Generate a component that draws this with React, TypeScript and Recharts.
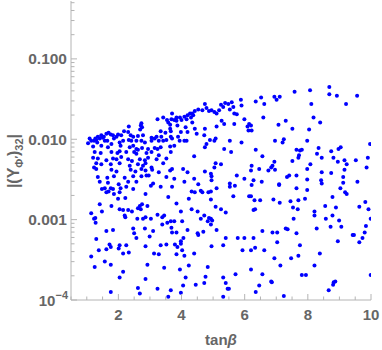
import React from "react";
import { ScatterChart, Scatter, XAxis, YAxis } from "recharts";

// [tanβ, log10 |(Y_Φ')_32|]
const scanPoints: [number, number][] = [
  [2.73,-1.80],[2.71,-1.83],[2.75,-1.85],[2.33,-1.84],[3.24,-1.75],[3.42,-1.73],[3.54,-1.76],[3.58,-1.79],[3.64,-1.82],
  [2.18,-1.90],[2.31,-1.91],[2.69,-1.88],[3.64,-1.87],[3.34,-1.90],[3.49,-1.92],[3.66,-1.90],[1.62,-1.93],[1.69,-1.92],
  [1.76,-1.94],[1.46,-1.95],[1.54,-1.97],[1.35,-1.97],[1.27,-1.99],[1.41,-1.99],[1.51,-1.98],[1.83,-1.95],[1.99,-1.94],
  [1.94,-1.97],[2.09,-1.95],[2.39,-1.95],[2.47,-1.97],[2.62,-1.96],[2.78,-1.95],[3.05,-1.98],[3.21,-1.97],[3.36,-1.97],
  [3.66,-1.97],[1.04,-2.05],[1.09,-1.99],[1.14,-2.02],[1.23,-2.02],[1.30,-2.01],[1.33,-2.04],[1.57,-2.02],[1.65,-2.02],
  [1.78,-2.06],[1.86,-1.99],[2.04,-2.04],[2.15,-2.02],[2.33,-2.01],[2.41,-2.02],[2.57,-2.02],[2.73,-2.02],[2.84,-2.04],
  [3.05,-2.02],[3.15,-1.99],[3.28,-2.02],[3.42,-2.02],[3.52,-2.01],[1.20,-2.09],[1.46,-2.08],[1.67,-2.10],[2.07,-2.08],
  [2.36,-2.10],[2.47,-2.08],[2.57,-2.12],[2.62,-2.13],[2.75,-2.11],[2.94,-2.12],[3.15,-2.11],[3.24,-2.12],[3.34,-2.10],
  [3.64,-2.09],[1.25,-2.16],[1.44,-2.17],[1.78,-2.16],[1.97,-2.17],[2.04,-2.15],[2.25,-2.16],[2.50,-2.16],[2.57,-2.18],
  [2.89,-2.17],[3.05,-2.16],[3.28,-2.20],[3.66,-2.16],[1.20,-2.23],[1.35,-2.24],[1.62,-2.26],[1.83,-2.24],[1.94,-2.25],
  [2.09,-2.22],[2.31,-2.25],[2.43,-2.27],[2.68,-2.25],[2.84,-2.26],[2.94,-2.23],[3.21,-2.25],[3.52,-2.24],[1.30,-2.30],
  [1.46,-2.31],[1.76,-2.31],[2.04,-2.30],[2.36,-2.33],[2.62,-2.31],[2.78,-2.33],[2.86,-2.30],[3.05,-2.35],[3.42,-2.30],
  [1.23,-2.35],[1.30,-2.37],[1.78,-2.38],[1.94,-2.40],[2.39,-2.38],[2.54,-2.40],[2.73,-2.37],[2.86,-2.39],[3.07,-2.38],
  [3.28,-2.41],[3.64,-2.39],[1.35,-2.47],[1.65,-2.48],[1.86,-2.46],[2.20,-2.48],[2.47,-2.46],[2.73,-2.46],[2.89,-2.45],
  [2.96,-2.45],[3.52,-2.47],[1.41,-2.53],[1.67,-2.54],[2.01,-2.56],[2.31,-2.53],[2.57,-2.53],[3.10,-2.55],
  [6.52,-1.48],[6.35,-1.53],[6.62,-1.56],[5.88,-1.51],[5.90,-1.58],[5.59,-1.54],[5.48,-1.56],[5.38,-1.55],[5.25,-1.57],
  [5.32,-1.60],[5.64,-1.60],[5.53,-1.63],[4.74,-1.56],[4.79,-1.61],[4.95,-1.64],[5.04,-1.66],[5.11,-1.68],[4.87,-1.65],
  [5.19,-1.64],[4.66,-1.64],[4.53,-1.63],[4.42,-1.65],[4.34,-1.68],[4.27,-1.68],[4.19,-1.70],[4.09,-1.72],[3.95,-1.73],
  [3.84,-1.73],[3.70,-1.68],[3.77,-1.76],[3.84,-1.77],[3.68,-1.75],[4.00,-1.76],[4.16,-1.75],[4.30,-1.73],[4.37,-1.70],
  [5.67,-1.68],[5.75,-1.69],[5.99,-1.75],[6.14,-1.81],[6.20,-1.83],[6.09,-1.84],[6.12,-1.89],[6.22,-1.89],[6.59,-1.73],
  [5.27,-1.77],[5.35,-1.81],[5.67,-1.81],[4.34,-1.79],[3.87,-1.83],[4.13,-1.85],[4.42,-1.87],[4.74,-1.87],[5.11,-1.84],
  [3.98,-1.91],[4.19,-1.91],[4.48,-1.93],[4.72,-1.95],[3.89,-1.97],[3.70,-1.99],[3.94,-2.02],[4.16,-2.02],[4.09,-2.02],
  [4.90,-2.01],[5.04,-2.02],[5.08,-1.99],[5.53,-2.02],[5.90,-2.04],[4.79,-2.06],[4.74,-2.10],[3.77,-2.08],[5.35,-2.12],
  [5.57,-2.16],[6.35,-2.13],[6.56,-2.21],[4.40,-2.21],[5.08,-2.30],[5.25,-2.31],[5.04,-2.35],[6.22,-2.33],[6.20,-2.39],
  [6.46,-2.37],[6.75,-2.39],[6.84,-2.35],[5.75,-2.45],[3.70,-2.37],[4.05,-2.37],[4.19,-2.41],[4.74,-2.40],[4.93,-2.43],
  [4.95,-2.46],[4.95,-2.51],[4.40,-2.49],[4.09,-2.53],[3.77,-2.49],[4.53,-2.56],[5.53,-2.55],[5.99,-2.49],[6.28,-2.51],
  [6.54,-2.53],
  [8.68,-1.35],[8.68,-1.44],[8.92,-1.46],[9.56,-1.46],[8.07,-1.39],[7.58,-1.41],[6.94,-1.47],[7.01,-1.51],[7.11,-1.47],
  [8.11,-1.56],[9.21,-1.56],[8.18,-1.73],[8.39,-1.79],[7.30,-1.77],[7.07,-1.82],[7.51,-1.87],[8.04,-1.88],[6.96,-2.02],
  [7.24,-2.00],[7.20,-2.04],[7.98,-2.02],[9.97,-2.06],[7.64,-2.13],[7.75,-2.14],[7.81,-2.13],[7.72,-2.20],[7.70,-2.23],
  [8.34,-2.11],[8.29,-2.18],[8.44,-2.23],[8.74,-2.15],[8.97,-2.12],[9.04,-2.10],[8.81,-2.23],[7.51,-2.27],[6.94,-2.28],
  [6.88,-2.33],[6.96,-2.38],[8.08,-2.31],[7.98,-2.37],[8.95,-2.28],[9.16,-2.26],[9.23,-2.31],[9.52,-2.26],[9.90,-2.23],
  [9.86,-2.35],[9.16,-2.38],[8.44,-2.41],[8.74,-2.42],[7.34,-2.47],[7.41,-2.45],[7.64,-2.45],[7.98,-2.50],[8.42,-2.51],
  [8.44,-2.55],[9.12,-2.47],[9.12,-2.54],[9.57,-2.53],[7.09,-2.56],
  [1.48,-2.62],[1.57,-2.61],[1.62,-2.66],[1.76,-2.61],[1.83,-2.62],[1.69,-2.65],[1.86,-2.68],[2.07,-2.61],[2.04,-2.66],
  [2.25,-2.59],[2.47,-2.62],[3.03,-2.58],[3.34,-2.59],[1.99,-2.74],[2.22,-2.73],[2.86,-2.68],[3.58,-2.72],[1.41,-2.81],
  [1.48,-2.90],[1.14,-2.92],[1.23,-2.99],[1.27,-2.98],[1.28,-3.04],[1.78,-2.83],[2.04,-2.87],[2.15,-2.88],[2.31,-2.88],
  [2.20,-2.95],[2.22,-2.97],[2.43,-2.90],[2.62,-2.86],[2.68,-2.83],[2.75,-2.81],[2.71,-2.87],[2.92,-2.83],[2.78,-2.99],
  [2.86,-2.97],[3.03,-2.99],[3.24,-2.94],[3.39,-2.97],[3.45,-2.95],[2.60,-2.99],[3.55,-3.04],[3.66,-3.02],[3.39,-3.06],
  [1.62,-3.14],[1.83,-3.13],[2.47,-3.11],[2.50,-3.17],[2.57,-3.23],[2.84,-3.11],[2.99,-3.21],[3.10,-3.14],[1.30,-3.24],
  [1.72,-3.31],[1.76,-3.34],[1.62,-3.37],[1.38,-3.38],[2.04,-3.32],[2.01,-3.36],[2.25,-3.32],[2.15,-3.42],[2.33,-3.41],
  [2.86,-3.33],[3.13,-3.42],[3.28,-3.43],[3.34,-3.32],[3.52,-3.31],[1.14,-3.46],[1.57,-3.52],[1.76,-3.56],[1.25,-3.59],
  [2.15,-3.65],[2.04,-3.72],[2.92,-3.56],[3.45,-3.60],[2.86,-3.74],[1.76,-3.90],[2.62,-3.85],[2.68,-3.92],[3.24,-3.86],
  [3.58,-3.96],[3.66,-3.88],
  [3.70,-2.59],[4.32,-2.65],[4.42,-2.66],[4.61,-2.64],[4.66,-2.66],[4.85,-2.66],[4.93,-2.65],[5.11,-2.61],[5.53,-2.59],
  [5.69,-2.58],[6.22,-2.57],[5.64,-2.71],[6.14,-2.71],[6.20,-2.71],[6.31,-2.76],[6.49,-2.76],[4.23,-2.74],[4.93,-2.75],
  [3.84,-2.80],[5.08,-2.84],[5.25,-2.87],[5.40,-2.91],[6.28,-2.88],[6.33,-2.87],[3.98,-2.90],[4.32,-2.87],[4.51,-2.90],
  [4.72,-2.95],[4.61,-2.99],[4.87,-2.98],[4.93,-2.99],[4.83,-3.02],[4.97,-3.01],[4.93,-3.06],[3.77,-3.02],[4.02,-3.02],
  [3.68,-3.10],[3.70,-3.16],[3.84,-3.16],[4.19,-3.13],[4.51,-3.17],[4.53,-3.19],[4.69,-3.15],[5.11,-3.13],[5.40,-3.23],
  [5.78,-3.23],[5.99,-3.23],[6.28,-3.23],[6.56,-3.14],[3.98,-3.27],[4.06,-3.23],[3.79,-3.31],[3.87,-3.34],[3.98,-3.30],
  [4.02,-3.38],[4.09,-3.45],[3.84,-3.43],[4.40,-3.42],[4.95,-3.33],[5.32,-3.32],[5.93,-3.38],[6.20,-3.38],[6.33,-3.35],
  [6.62,-3.38],[3.95,-3.62],[4.23,-3.57],[4.83,-3.59],[4.13,-3.72],[4.45,-3.81],[4.72,-3.79],[4.76,-3.71],[5.32,-3.72],
  [5.40,-3.79],[5.46,-3.86],[5.50,-3.86],[5.71,-3.68],[6.20,-3.62],[6.56,-3.68],[6.84,-3.77],[6.46,-3.82],[6.35,-3.90],
  [4.05,-3.82],[3.98,-3.91],[5.32,-3.96],
  [7.09,-2.57],[7.64,-2.61],[7.98,-2.63],[9.03,-2.61],[9.18,-2.66],[9.23,-2.68],[8.78,-2.72],[6.91,-2.75],[7.11,-2.79],
  [7.45,-2.77],[7.70,-2.76],[7.91,-2.74],[9.82,-2.78],[9.63,-2.84],[7.53,-2.85],[7.68,-2.87],[8.21,-2.90],[8.21,-2.95],
  [8.55,-2.83],[8.89,-2.85],[8.78,-2.95],[8.57,-2.99],[8.99,-3.01],[7.55,-2.99],[9.92,-2.87],[9.99,-2.99],[9.84,-3.08],
  [9.80,-3.16],[9.73,-3.23],[9.63,-3.28],[9.06,-3.09],[8.72,-3.09],[8.28,-3.11],[7.30,-3.11],[7.36,-3.12],[7.64,-3.17],
  [6.88,-3.16],[7.03,-3.16],[7.03,-3.28],[7.75,-3.32],[8.95,-3.27],[9.42,-3.19],[9.46,-3.19],[8.38,-3.42],[8.21,-3.57],
  [7.70,-3.45],[7.47,-3.48],[6.94,-3.48],[7.13,-3.57],[7.81,-3.69],[7.94,-3.69],[9.99,-3.69],[6.86,-3.78],[8.82,-3.78],
  [8.87,-3.77],[8.80,-3.81],[8.66,-3.88],[7.24,-3.95],
];

const xTicks = [0.5,1,1.5,2,2.5,3,3.5,4,4.5,5,5.5,6,6.5,7,7.5,8,8.5,9,9.5,10];
const xLabels = [2,4,6,8,10];
const yTicks = [
  0.0001,0.0002,0.0003,0.0004,0.0005,0.0006,0.0007,0.0008,0.0009,
  0.001,0.002,0.003,0.004,0.005,0.006,0.007,0.008,0.009,
  0.01,0.02,0.03,0.04,0.05,0.06,0.07,0.08,0.09,
  0.1,0.2,0.3,0.4,0.5,
];
const yLabelValues = [0.0001, 0.001, 0.01, 0.1];
const yLabelTexts = ["10-4", "0.001", "0.010", "0.100"];

const data = scanPoints.map(([t, l]) => ({ x: t, y: Math.pow(10, l) }));

const AXIS = "#b4b4b4";
const TXT = "#666666";
const FONT = "'Liberation Sans', Arial, sans-serif";
const BLUE = "#0000ff";

const isMajorY = (v: number) => yLabelValues.findIndex((m) => Math.abs(v - m) / m < 1e-6);

const XBottomTick = (p: any) => {
  const v = p.payload.value;
  const lab = xLabels.includes(v);
  const len = lab ? 6 : 3.5;
  return (
    <g>
      <line x1={p.x} y1={p.y} x2={p.x} y2={p.y - len} stroke={AXIS} strokeWidth={1} />
      {lab && (
        <text x={p.x} y={p.y + 20} textAnchor="middle" fontFamily={FONT} fontWeight="bold" fontSize={15} fill={TXT}>
          {v}
        </text>
      )}
    </g>
  );
};

const XTopTick = (p: any) => {
  const v = p.payload.value;
  const len = xLabels.includes(v) ? 6 : 3.5;
  return <line x1={p.x} y1={p.y} x2={p.x} y2={p.y + len} stroke={AXIS} strokeWidth={1} />;
};

const YLeftTick = (p: any) => {
  const v = p.payload.value;
  const i = isMajorY(v);
  const len = i >= 0 ? 6 : 3.5;
  return (
    <g>
      <line x1={p.x} y1={p.y} x2={p.x + len} y2={p.y} stroke={AXIS} strokeWidth={1} />
      {i === 0 && (
        <text x={p.x - 3} y={p.y + 6} textAnchor="end" fontFamily={FONT} fontWeight="bold" fontSize={15} fill={TXT}>
          <tspan>10</tspan>
          <tspan dy={-7} fontSize={11}>−4</tspan>
        </text>
      )}
      {i > 0 && (
        <text x={p.x - 4} y={p.y + 5.5} textAnchor="end" fontFamily={FONT} fontWeight="bold" fontSize={15.5} fill={TXT}>
          {yLabelTexts[i]}
        </text>
      )}
    </g>
  );
};

const YRightTick = (p: any) => {
  const v = p.payload.value;
  const len = isMajorY(v) >= 0 ? 6 : 3.5;
  return <line x1={p.x} y1={p.y} x2={p.x - len} y2={p.y} stroke={AXIS} strokeWidth={1} />;
};

const Dot = (p: any) => <circle cx={p.cx} cy={p.cy} r={2} fill={BLUE} />;

export default function App() {
  return (
    <div style={{ position: "absolute", left: 0, top: 0, width: 382, height: 350, background: "#fff" }}>
      <ScatterChart width={382} height={350} margin={{ top: 1, right: 11, bottom: 0, left: 0 }}>
        <XAxis
          xAxisId="b"
          dataKey="x"
          type="number"
          domain={[0.5, 10]}
          allowDataOverflow
          ticks={xTicks}
          interval={0}
          height={50}
          tickSize={0}
          tickMargin={0}
          tickLine={false}
          axisLine={{ stroke: AXIS }}
          tick={XBottomTick}
        />
        <XAxis
          xAxisId="t"
          orientation="top"
          type="number"
          domain={[0.5, 10]}
          allowDataOverflow
          ticks={xTicks}
          interval={0}
          height={0}
          tickSize={0}
          tickMargin={0}
          tickLine={false}
          axisLine={{ stroke: AXIS }}
          tick={XTopTick}
        />
        <YAxis
          yAxisId="l"
          dataKey="y"
          type="number"
          scale="log"
          domain={[0.0001, 0.525]}
          allowDataOverflow
          ticks={yTicks}
          interval={0}
          width={71}
          tickSize={0}
          tickMargin={0}
          tickLine={false}
          axisLine={{ stroke: AXIS }}
          tick={YLeftTick}
        />
        <YAxis
          yAxisId="r"
          orientation="right"
          type="number"
          scale="log"
          domain={[0.0001, 0.525]}
          allowDataOverflow
          ticks={yTicks}
          interval={0}
          width={0}
          tickSize={0}
          tickMargin={0}
          tickLine={false}
          axisLine={{ stroke: AXIS }}
          tick={YRightTick}
        />
        <Scatter data={data} xAxisId="b" yAxisId="l" fill={BLUE} shape={Dot} isAnimationActive={false} />
      </ScatterChart>
      <svg width={382} height={350} style={{ position: "absolute", left: 0, top: 0, pointerEvents: "none" }}>
        <text
          transform="translate(19,161) rotate(-90)"
          textAnchor="middle"
          fontFamily={FONT}
          fontWeight="bold"
          fontSize={16}
          fill={TXT}
        >
          <tspan>|(Y</tspan>
          <tspan dy={4} fontSize={11}>Φ′</tspan>
          <tspan dy={-4}>)</tspan>
          <tspan dy={4} fontSize={11}>32</tspan>
          <tspan dy={-4}>|</tspan>
        </text>
        <text x={221} y={345} textAnchor="middle" fontFamily={FONT} fontWeight="bold" fontSize={15} fill={TXT}>
          tan<tspan fontStyle="italic">β</tspan>
        </text>
      </svg>
    </div>
  );
}
